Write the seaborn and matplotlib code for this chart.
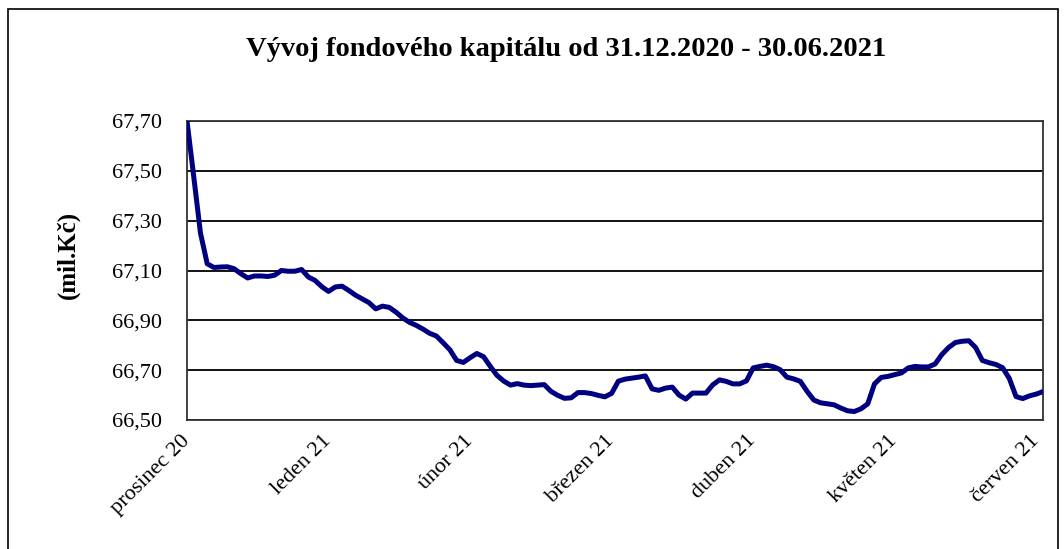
import matplotlib
matplotlib.use("Agg")
import numpy as np
import pandas as pd
import matplotlib.pyplot as plt
import matplotlib.patches as patches
from matplotlib.ticker import FuncFormatter
import seaborn as sns

# hodnoty fondového kapitálu (mil. Kč)
kapital = [67.700, 67.477, 67.250, 67.127, 67.112, 67.114, 67.115, 67.107, 67.087, 67.070,
           67.078, 67.078, 67.076, 67.081, 67.100, 67.097, 67.097, 67.104, 67.074, 67.060,
           67.035, 67.016, 67.034, 67.037, 67.020, 67.001, 66.986, 66.971, 66.946, 66.957,
           66.952, 66.933, 66.910, 66.892, 66.880, 66.865, 66.848, 66.837, 66.810, 66.782,
           66.739, 66.731, 66.750, 66.767, 66.754, 66.715, 66.679, 66.656, 66.640, 66.646,
           66.640, 66.638, 66.640, 66.642, 66.615, 66.599, 66.587, 66.589, 66.610, 66.610,
           66.606, 66.599, 66.593, 66.607, 66.656, 66.664, 66.668, 66.672, 66.677, 66.625,
           66.619, 66.628, 66.632, 66.600, 66.584, 66.608, 66.608, 66.608, 66.641, 66.661,
           66.655, 66.645, 66.645, 66.657, 66.709, 66.715, 66.720, 66.714, 66.702, 66.672,
           66.665, 66.655, 66.615, 66.580, 66.569, 66.565, 66.561, 66.548, 66.537, 66.534,
           66.545, 66.565, 66.645, 66.671, 66.675, 66.682, 66.689, 66.709, 66.715, 66.713,
           66.713, 66.725, 66.763, 66.791, 66.811, 66.816, 66.818, 66.791, 66.739, 66.730,
           66.723, 66.710, 66.667, 66.594, 66.586, 66.597, 66.604, 66.614]

mesice = ['prosinec 20', 'leden 21', 'únor 21', 'březen 21', 'duben 21', 'květen 21', 'červen 21']
mesic_pozice = [0, 21, 42, 63, 84, 105, 126]
y_ticks = [66.50, 66.70, 66.90, 67.10, 67.30, 67.50, 67.70]

df = pd.DataFrame({'den': np.arange(len(kapital)), 'kapital': kapital})

sns.set_style("white")
plt.rcParams['font.family'] = ['Liberation Serif', 'DejaVu Serif']
plt.rcParams['text.color'] = 'black'

fig = plt.figure(figsize=(10.64, 5.49), dpi=100)
ax = fig.add_axes([187/1064, 1 - 420/549, (1043-187)/1064, (420-121)/549])

sns.lineplot(data=df, x='den', y='kapital', color='#000080', linewidth=3.6, ax=ax, zorder=3)

ax.set_xlim(0, len(kapital) - 1)
ax.set_ylim(66.50, 67.70)
ax.set_yticks(y_ticks)
ax.yaxis.set_major_formatter(FuncFormatter(lambda v, p: f"{v:.2f}".replace('.', ',')))
ax.set_xticks(mesic_pozice)
ax.set_xticklabels(mesice, rotation=45, ha='right', va='center', rotation_mode='anchor')
ax.tick_params(axis='both', length=0, labelsize=16, colors='black')
ax.tick_params(axis='x', pad=13)
ax.tick_params(axis='y', pad=18)

ax.grid(axis='y', color='black', linewidth=1.3)
ax.set_axisbelow(True)
for s in ax.spines.values():
    s.set_visible(True)
    s.set_color('#333333')
    s.set_linewidth(1.3)

ax.set_xlabel('')
ax.set_ylabel('')
fig.text(68/1064, 1 - 255/549, '(mil.Kč)', rotation=90, ha='center', va='center',
         fontsize=18, fontweight='bold')

fig.text(566/1064, 1 - 50/549, 'Vývoj fondového kapitálu od 31.12.2020 - 30.06.2021',
         ha='center', va='center', fontsize=20.5, fontweight='bold')

ramecek = patches.Rectangle((8/1064, -0.1), (1058-8)/1064, 1.1 - 9/549,
                            transform=fig.transFigure, fill=False, edgecolor='black',
                            linewidth=1.2, clip_on=False)
fig.patches.append(ramecek)

fig.savefig('out.png', dpi=100)
